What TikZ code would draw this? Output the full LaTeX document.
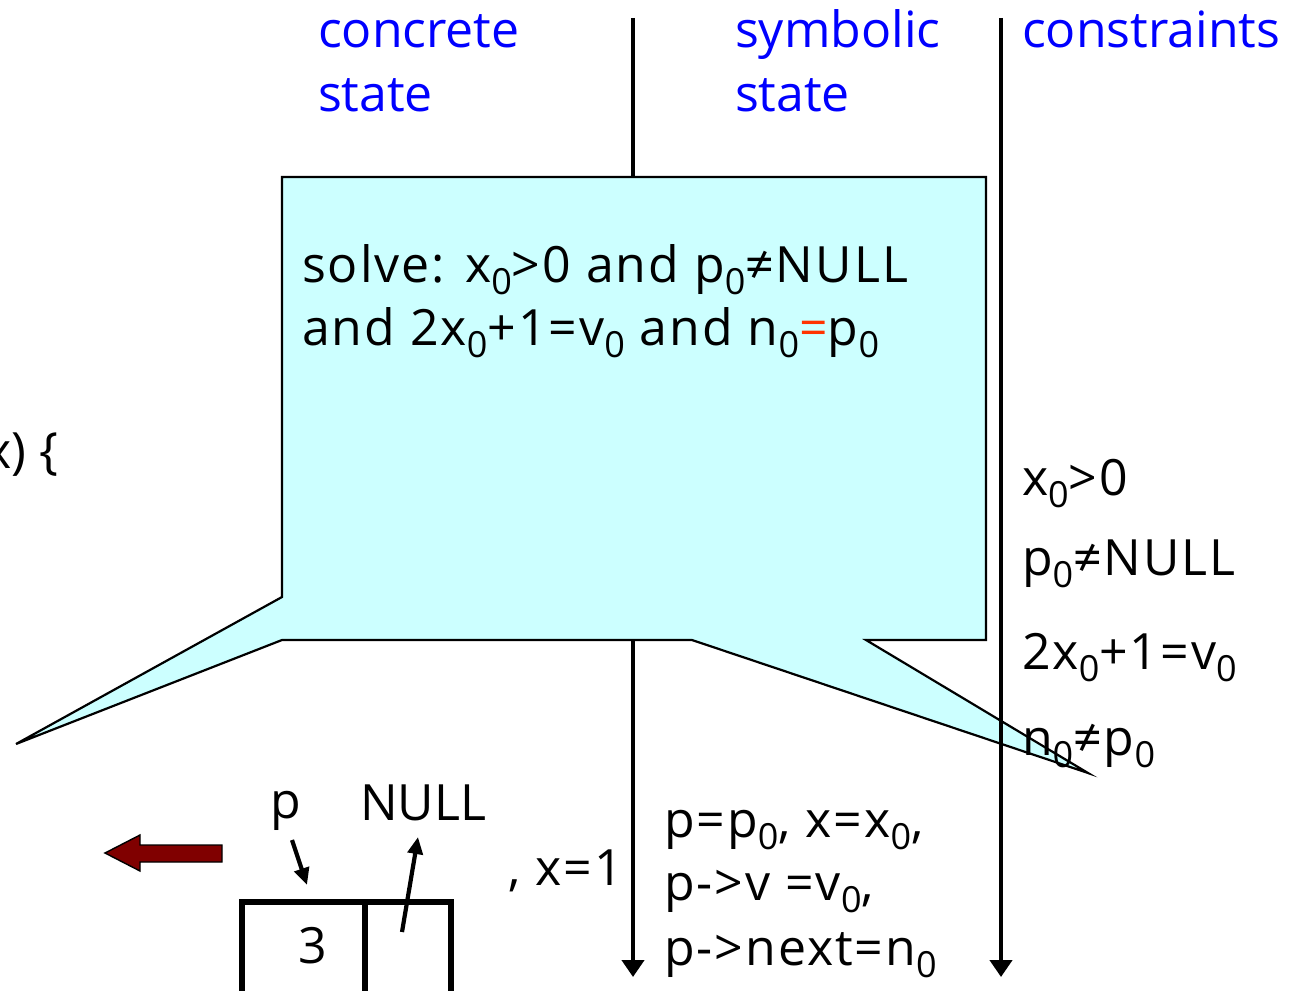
\documentclass[tikz,border=0pt]{standalone}
\usepackage{fontspec}
\setmainfont{Open Sans}
\usepackage{graphicx}
\usetikzlibrary{arrows.meta}
\definecolor{callfill}{HTML}{CCFFFF}
\definecolor{hdblue}{HTML}{0000FF}
\definecolor{redeq}{HTML}{FF3300}
\definecolor{darkred}{HTML}{800000}
\newcommand{\zs}{\raisebox{-0.45ex}{\scalebox{0.72}{0}}}
\tikzset{
  txt/.style={font=\fontsize{50}{63}\selectfont, inner sep=0pt, outer sep=0pt, anchor=base west},
  frm/.style={txt, font=\fontsize{50}{63}\selectfont\addfontfeature{LetterSpace=4}},
  hdr/.style={txt, text=hdblue},
  lane/.style={line width=4.2pt, -{Triangle[width=22pt,length=17pt]}},
  ptr/.style={line width=4.2pt, -{Triangle[width=15pt,length=17pt]}},
  callout/.style={fill=callfill, draw=black, line width=2.2pt, line join=miter},
  cell/.style={draw=black, line width=5.5pt, inner sep=0pt, outer sep=0pt},
  blockarrow/.style={fill=darkred, draw=black, line width=1.4pt}
}
\begin{document}
\begin{tikzpicture}[x=1pt,y=-1pt]
\useasboundingbox (0,0) rectangle (1297,990);

% lane 1 (behind callout)
\coordinate (l1top) at (633,18);
\coordinate (l1bot) at (633,977);
\draw[lane] (l1top) -- (l1bot);

% callout
\draw[callout] (282,177) -- (986,177) -- (986,640) -- (866,640) -- (1088,773)
  -- (692,640) -- (282,640) -- (16,744) -- (282,597) -- cycle;

% lane 2 (over wedge)
\coordinate (l2top) at (1001,18);
\coordinate (l2bot) at (1001,977);
\draw[lane] (l2top) -- (l2bot);

% headers
\node[hdr] (h1a) at (318,48) {concrete};
\node[hdr] (h1b) at (318,111) {state};
\node[hdr] (h2a) at (735,48) {symbolic};
\node[hdr] (h2b) at (735,111) {state};
\node[hdr] (h3) at (1022,48) {constraints};

% code fragment (cut at the left edge, as in the reference)
\node[txt, anchor=base east] (code) at (58,468) {x) \{};

% callout text
\node[frm] (s1) at (302,282) {solve: x\zs>0 and p\zs≠NULL};
\node[frm] (s2) at (302,345) {and 2x\zs+1=v\zs{} and n\zs\textcolor{redeq}{=}p\zs};

% constraints
\node[frm] (c1) at (1022,495) {x\zs>0};
\node[frm] (c2) at (1022,575) {p\zs≠NULL};
\node[frm] (c3) at (1022,669) {2x\zs+1=v\zs};
\node[frm] (c4) at (1022,755) {n\zs≠p\zs};

% concrete heap
\node[txt] (pl) at (270,818) {p};
\node[txt] (nl) at (360,820) {NULL};
\node[cell, minimum width=123pt, minimum height=95pt, anchor=north west] (cellA) at (242,902) {};
\node[cell, minimum width=86pt, minimum height=95pt, anchor=north west] (cellB) at (365,902) {};
\node[txt, anchor=center] (three) at (313,946) {3};
\coordinate (pfrom) at (292,840);
\coordinate (pto) at (307,885);
\draw[ptr] (pfrom) -- (pto);
\coordinate (nfrom) at (402,932);
\coordinate (nto) at (418,837);
\draw[ptr] (nfrom) -- (nto);

\node[frm] (xeq) at (508,885) {, x=1};

% red block arrow
\draw[blockarrow] (222,845) -- (140,845) -- (140,835) -- (105,853) -- (140,871) -- (140,862) -- (222,862) -- cycle;

% symbolic state
\node[frm] (y1) at (664,837) {p=p\zs, x=x\zs,};
\node[frm] (y2) at (664,900) {p->v =v\zs,};
\node[frm] (y3) at (664,965) {p->next=n\zs};
\end{tikzpicture}
\end{document}
